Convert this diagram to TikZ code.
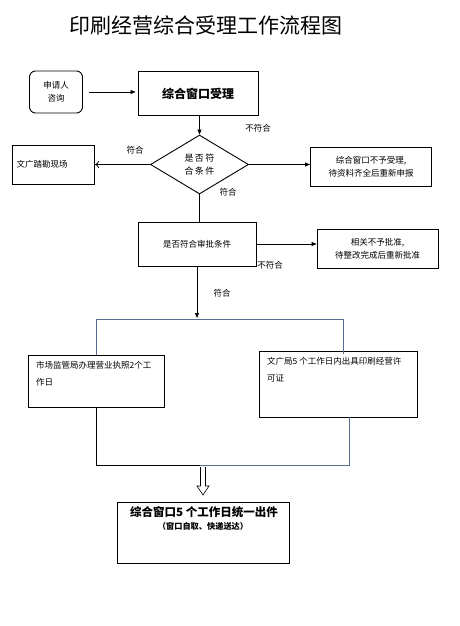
\documentclass[tikz,border=0pt]{standalone}
\usepackage{fontspec}
\setmainfont{Noto Sans CJK SC}
\newfontfamily\cjk{Noto Sans CJK SC}
\usetikzlibrary{arrows.meta,shapes.geometric}
\definecolor{linkblue}{RGB}{84,110,140}
\tikzset{
  box/.style={draw, line width=0.9pt, inner sep=0pt, font=\cjk\fontsize{8.5}{13}\selectfont, align=center},
  lbl/.style={font=\cjk\fontsize{8.5}{10}\selectfont, inner sep=0pt},
  arr/.style={-{Triangle[length=5pt,width=4pt]}, line width=0.7pt},
  ln/.style={line width=0.7pt},
  bl/.style={line width=0.9pt, draw=linkblue}
}
\begin{document}
\begin{tikzpicture}[x=1pt,y=-1pt]
\useasboundingbox (0,0) rectangle (460,626);
% title
\node[font=\cjk\fontsize{21}{24}\selectfont, inner sep=0pt] (title) at (205.5,25) {印刷经营综合受理工作流程图};
% nodes
\node[box, rounded corners=6pt, minimum width=53pt, minimum height=42pt] (apply) at (56,92) {申请人\\咨询};
\node[box, minimum width=120pt, minimum height=44pt, font=\cjk\bfseries\fontsize{12}{14}\selectfont] (window) at (198,93.5) {综合窗口受理};
\node[draw, line width=0.9pt, diamond, aspect=1.65, minimum width=98pt, minimum height=59pt, inner sep=0pt, font=\cjk\fontsize{9}{13}\selectfont, align=center] (check) at (199.5,164.5) {是\,否\,符\\合\,条\,件};
\node[box, minimum width=82pt, minimum height=39pt, text width=74pt, align=left] (survey) at (53.5,164.5) {文广踏勘现场};
\node[box, minimum width=121pt, minimum height=39pt] (reject1) at (371,166.5) {综合窗口不予受理,\\待资料齐全后重新申报};
\node[box, minimum width=118pt, minimum height=44pt] (approve) at (197,244) {是否符合审批条件};
\node[box, minimum width=121pt, minimum height=39pt] (reject2) at (377.5,248.5) {相关不予批准,\\待整改完成后重新批准};
\node[box, minimum width=136pt, minimum height=52pt] (market) at (96,381) {};
\node[lbl, anchor=north west, align=left, font=\cjk\fontsize{8.5}{17}\selectfont] (markett) at (36,361) {市场监管局办理营业执照2个工\\作日};
\node[box, minimum width=158pt, minimum height=66pt] (culture) at (338,384) {};
\node[lbl, anchor=north west, align=left, font=\cjk\fontsize{8.5}{17}\selectfont] (culturet) at (267,357) {文广局5 个工作日内出具印刷经营许\\可证};
\node[box, minimum width=172pt, minimum height=61pt] (final) at (203,532.5) {};
\node[lbl, font=\cjk\bfseries\fontsize{11.5}{13}\selectfont] (finalt1) at (204,512) {综合窗口5 个工作日统一出件};
\node[lbl, font=\cjk\bfseries\fontsize{8.2}{10}\selectfont] (finalt2) at (203,526) {（窗口自取、快递送达）};
% labels
\node[lbl] (l1) at (258,128) {不符合};
\node[lbl] (l2) at (135,150) {符合};
\node[lbl] (l3) at (228,192) {符合};
\node[lbl] (l4) at (270,265) {不符合};
\node[lbl] (l5) at (222,293) {符合};
% connectors
\draw[arr] ([xshift=6pt]apply.east) -- ([xshift=-2pt]window.west |- apply.east);
\draw[arr] (window.south -| check.north) -- (check.north);
\draw[ln, -{To[length=4pt,width=7pt]}] (check.west) -- (check.west -| survey.east);
\draw[arr] (check.east) -- (check.east -| reject1.west);
\draw[ln] (check.south) -- (check.south |- approve.north);
\draw[arr] (approve.east) -- (reject2.west |- approve.east);
\coordinate (split) at (197,318);
\draw[arr] (approve.south) -- (split);
\coordinate (tl) at (96,319);
\coordinate (tr) at (343,319);
\draw[bl] (96,355) -- (tl) -- (tr) -- (343,354);
\coordinate (bl1) at (96,465);
\coordinate (br1) at (349,465);
\draw[line width=0.9pt] (market.south -| bl1) -- (bl1) -- (200,465);
\draw[bl] (200,465) -- (br1) -- (culture.south -| br1);
% hollow arrow
\draw[line width=0.6pt] (200.5,467) -- (200.5,486) -- (197,486) -- (203,495) -- (209,486) -- (205.5,486) -- (205.5,467);
\end{tikzpicture}
\end{document}
